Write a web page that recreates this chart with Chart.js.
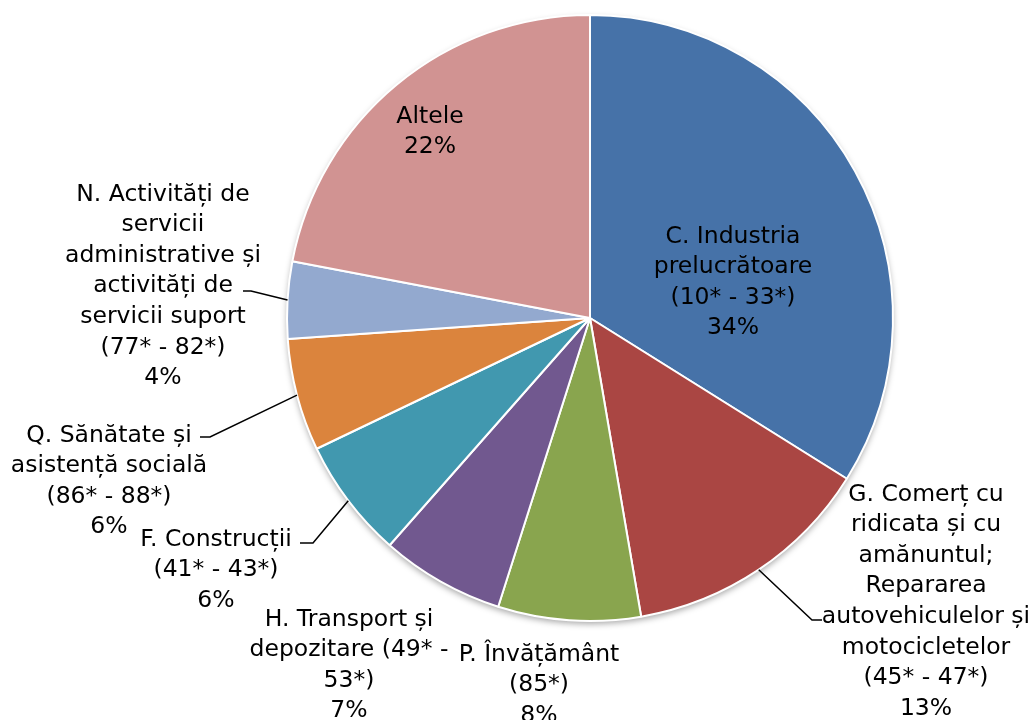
<!DOCTYPE html>
<html>
<head>
<meta charset="utf-8">
<script src="https://cdn.jsdelivr.net/npm/chart.js@4/dist/chart.umd.min.js"></script>
<style>
  html, body { margin: 0; padding: 0; background: #fff; }
  #wrap { width: 1034px; height: 720px; position: relative; }
</style>
</head>
<body>
<div id="wrap"><canvas id="pieChart" width="1034" height="720"></canvas></div>
<script>
// categories in drawing order (clockwise from 12 o'clock)
const categories = [
    'C. Industria prelucrătoare (10* - 33*)',
    'G. Comerț cu ridicata și cu amănuntul; Repararea autovehiculelor și motocicletelor (45* - 47*)',
    'P. Învățământ (85*)',
    'H. Transport și depozitare (49* - 53*)',
    'F. Construcții (41* - 43*)',
    'Q. Sănătate și asistență socială (86* - 88*)',
    'N. Activități de servicii administrative și activități de servicii suport (77* - 82*)',
    'Altele'
];
// share of each category, percent
const shares = [33.9, 13.4, 7.6, 6.6, 6.4, 6.0, 4.1, 22.0];
// how each label is broken into lines (percentage added below)
const labelLines = [
    ['C. Industria', 'prelucrătoare', '(10* - 33*)'],
    ['G. Comerț cu', 'ridicata și cu', 'amănuntul;', 'Repararea', 'autovehiculelor și', 'motocicletelor', '(45* - 47*)'],
    ['P. Învățământ', '(85*)'],
    ['H. Transport și', 'depozitare (49* -', '53*)'],
    ['F. Construcții', '(41* - 43*)'],
    ['Q. Sănătate și', 'asistență socială', '(86* - 88*)'],
    ['N. Activități de', 'servicii', 'administrative și', 'activități de', 'servicii suport', '(77* - 82*)'],
    ['Altele']
];

const sliceColors = ['#4672A8', '#AA4643', '#89A54E', '#71588F', '#4198AF', '#DB843D', '#93A9CF', '#D19392'];

// label placement: centre x, first line centre y, optional leader [y, x1, x2]
const labelPos = [
    { x: 733, y: 234 },
    { x: 926, y: 492, leader: [620, 822, 812] },
    { x: 539, y: 652 },
    { x: 349, y: 617 },
    { x: 216, y: 537, leader: [543, 300, 313] },
    { x: 109, y: 433, leader: [437, 200, 210] },
    { x: 163, y: 192, leader: [291, 243, 251] },
    { x: 430, y: 114 }
];
const LINE_H = 30.6;
const FONT = '23.5px "DejaVu Sans"';

// soft shadow under the pie
const pieShadow = {
    id: 'pieShadow',
    beforeDatasetsDraw(chart) {
        const arc = chart.getDatasetMeta(0).data[0];
        if (!arc) return;
        const ctx = chart.ctx;
        ctx.save();
        ctx.shadowColor = 'rgba(0,0,0,0.35)';
        ctx.shadowBlur = 6;
        ctx.shadowOffsetY = 3;
        ctx.fillStyle = '#fff';
        ctx.beginPath();
        ctx.arc(arc.x, arc.y, arc.outerRadius, 0, Math.PI * 2);
        ctx.fill();
        ctx.restore();
    }
};

// data labels with leader lines
const sliceLabels = {
    id: 'sliceLabels',
    afterDatasetsDraw(chart) {
        const ctx = chart.ctx;
        const meta = chart.getDatasetMeta(0);
        const data = chart.data.datasets[0].data;
        const total = data.reduce((a, b) => a + b, 0);
        ctx.save();
        ctx.font = FONT;
        ctx.fillStyle = '#000';
        ctx.textAlign = 'center';
        ctx.textBaseline = 'alphabetic';
        meta.data.forEach((arc, i) => {
            const pos = labelPos[i];
            const lines = labelLines[i].concat([Math.round(data[i] / total * 100) + '%']);
            lines.forEach((t, j) => {
                ctx.fillText(t, pos.x, pos.y + j * LINE_H + 8.5);
            });
            if (pos.leader) {
                const mid = (arc.startAngle + arc.endAngle) / 2;
                const ax = arc.x + Math.cos(mid) * arc.outerRadius;
                const ay = arc.y + Math.sin(mid) * arc.outerRadius;
                ctx.strokeStyle = '#000';
                ctx.lineWidth = 1.5;
                ctx.beginPath();
                ctx.moveTo(pos.leader[1], pos.leader[0]);
                ctx.lineTo(pos.leader[2], pos.leader[0]);
                ctx.lineTo(ax, ay);
                ctx.stroke();
            }
        });
        ctx.restore();
    }
};

document.addEventListener('DOMContentLoaded', function() {
    const ctx = document.getElementById('pieChart').getContext('2d');
    new Chart(ctx, {
        type: 'pie',
        data: {
            labels: categories,
            datasets: [{
                data: shares,
                backgroundColor: sliceColors,
                borderColor: '#fff',
                borderWidth: 2
            }]
        },
        options: {
            responsive: false,
            animation: false,
            layout: {
                padding: { left: 286, right: 140, top: 14, bottom: 98 }
            },
            plugins: {
                legend: { display: false },
                tooltip: { enabled: false }
            }
        },
        plugins: [pieShadow, sliceLabels]
    });
});
</script>
</body>
</html>
